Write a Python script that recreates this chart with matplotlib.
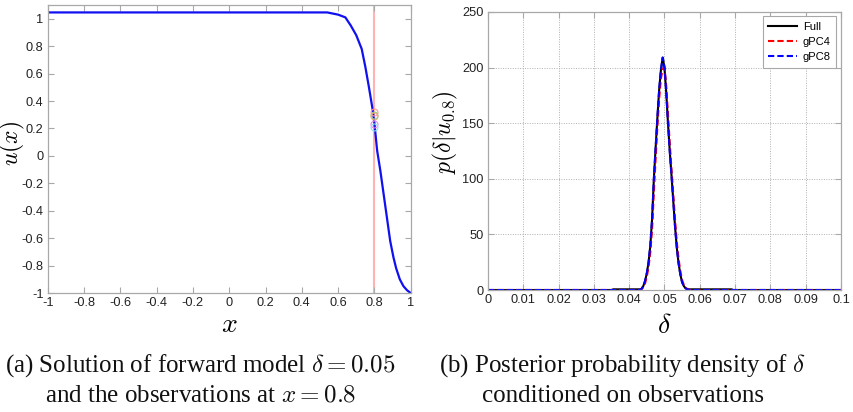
import matplotlib
matplotlib.use("Agg")
import matplotlib.pyplot as plt

# (a) forward solution, delta = 0.05
x_grid = [-1.0, 0.54, 0.60, 0.64, 0.67, 0.70, 0.73, 0.75, 0.77, 0.78, 0.79, 0.80,
          0.815, 0.833, 0.851, 0.869, 0.887, 0.905, 0.92, 0.94, 0.96, 0.98, 1.0]
u_sol = [1.046, 1.046, 1.03, 1.01, 0.95, 0.88, 0.78, 0.65, 0.50, 0.42, 0.34, 0.24,
         0.04, -0.11, -0.28, -0.45, -0.62, -0.74, -0.82, -0.90, -0.95, -0.98, -1.0]
x_obs = 0.8
u_obs = [0.32, 0.30, 0.29, 0.23, 0.21]
obs_colors = ["#ff9a9a", "#8fd08f", "#e8b070", "#e58ae5", "#8fe0e8"]

# (b) posterior densities
delta = [0.0, 0.035, 0.0355, 0.043, 0.0435, 0.044, 0.0445, 0.045, 0.0455, 0.046,
         0.0465, 0.047, 0.0475, 0.048, 0.0485, 0.049, 0.0495, 0.05, 0.0505, 0.051,
         0.0515, 0.052, 0.0525, 0.053, 0.0535, 0.054, 0.0545, 0.055, 0.0555, 0.056,
         0.0565, 0.057, 0.069, 0.0695, 0.1]
p_full = [0, 0, 0.6, 0.6, 1, 3.5, 8, 15, 25, 40,
          64, 100, 128, 155, 180, 198, 209, 200, 178, 150,
          125, 103, 80, 57, 38, 24, 14, 7, 3.5, 1.5,
          0.7, 0.6, 0.6, 0, 0]
p_gpc4 = [0, 0, 0, 0, 0.8, 2.5, 6, 12, 21, 34,
          55, 88, 118, 147, 172, 190, 199, 200, 184, 158,
          132, 108, 86, 63, 43, 28, 17, 9, 4.5, 2,
          0.8, 0, 0, 0, 0]
p_gpc8 = [0, 0, 0, 0, 1, 3.5, 8, 15, 25, 40,
          64, 100, 128, 155, 180, 198, 209, 201, 178, 150,
          125, 103, 80, 57, 38, 24, 14, 7, 3.5, 1.5,
          0.7, 0, 0, 0, 0]

a_xticks = [-1, -0.8, -0.6, -0.4, -0.2, 0, 0.2, 0.4, 0.6, 0.8, 1]
a_yticks = [-1, -0.8, -0.6, -0.4, -0.2, 0, 0.2, 0.4, 0.6, 0.8, 1]
b_xticks = [0, 0.01, 0.02, 0.03, 0.04, 0.05, 0.06, 0.07, 0.08, 0.09, 0.1]
b_yticks = [0, 50, 100, 150, 200, 250]

plt.rcParams["font.family"] = "Liberation Sans"
plt.rcParams["mathtext.fontset"] = "cm"
plt.rcParams["axes.unicode_minus"] = False

spine_col = "#a8a8a8"
text_col = "#222222"


def style_axes(ax, xt, yt):
    ax.set_xticks(xt)
    ax.set_yticks(yt)
    ax.set_xticklabels([f"{v:g}" for v in xt])
    ax.set_yticklabels([f"{v:g}" for v in yt])
    ax.tick_params(direction="in", length=4, width=0.8, colors=spine_col,
                   labelcolor=text_col, labelsize=9.2, top=True, right=True, pad=3)
    for s in ax.spines.values():
        s.set_color(spine_col)
        s.set_linewidth(0.9)


fig = plt.figure(figsize=(8.54, 4.12), dpi=100)

ax1 = fig.add_axes([0.0559, 0.2888, 0.425, 0.699])
ax1.axvline(x_obs, color="#ffb3b3", lw=1.5, zorder=1)
ax1.plot(x_grid, u_sol, color="#1010f0", lw=1.6, zorder=2)
for u, c in zip(u_obs, obs_colors):
    ax1.plot([x_obs], [u], "o", mfc="none", mec=c, ms=5, mew=0.8, zorder=3)
ax1.set_xlim(-1, 1)
ax1.set_ylim(-1, 1.1)
style_axes(ax1, a_xticks, a_yticks)
ax1.set_xlabel("$x$", fontsize=20)
ax1.set_ylabel("$u(x)$", fontsize=17)
ax1.xaxis.set_label_coords(0.5, -0.066)
ax1.yaxis.set_label_coords(-0.056, 0.52)

ax2 = fig.add_axes([0.5714, 0.2961, 0.4133, 0.6748])
ax2.plot(delta, p_full, color="black", lw=1.5, label="Full")
ax2.plot(delta, p_gpc4, color="red", lw=1.5, ls=(0, (3, 1.5)), label="gPC4")
ax2.plot(delta, p_gpc8, color="blue", lw=1.5, ls=(0, (3, 1.5)), label="gPC8")
ax2.set_xlim(0, 0.1)
ax2.set_ylim(0, 250)
ax2.grid(True, color="#b0b0b0", ls=(0, (1, 1.5)), lw=0.7)
style_axes(ax2, b_xticks, b_yticks)
ax2.set_xlabel(r"$\delta$", fontsize=20)
ax2.set_ylabel(r"$p(\delta|u_{0.8})$", fontsize=17)
ax2.xaxis.set_label_coords(0.5, -0.083)
ax2.yaxis.set_label_coords(-0.078, 0.568)
leg = ax2.legend(loc="upper right", fontsize=8, handlelength=2.6,
                 fancybox=False, framealpha=1, borderpad=0.5,
                 labelspacing=0.45, handletextpad=0.5, borderaxespad=0.4)
leg.get_frame().set_edgecolor(spine_col)
leg.get_frame().set_linewidth(0.8)

cap_kw = dict(ha="center", va="center", fontsize=18, family="Liberation Serif",
              color="#111111")
fig.text(200 / 854, 1 - 366 / 412, r"(a) Solution of forward model $\delta = 0.05$", **cap_kw)
fig.text(201 / 854, 1 - 396 / 412, r"and the observations at $x = 0.8$", **cap_kw)
fig.text(622 / 854, 1 - 366 / 412, r"(b) Posterior probability density of $\delta$", **cap_kw)
fig.text(623 / 854, 1 - 396 / 412, "conditioned on observations", **cap_kw)

fig.savefig("out.png", dpi=100)
